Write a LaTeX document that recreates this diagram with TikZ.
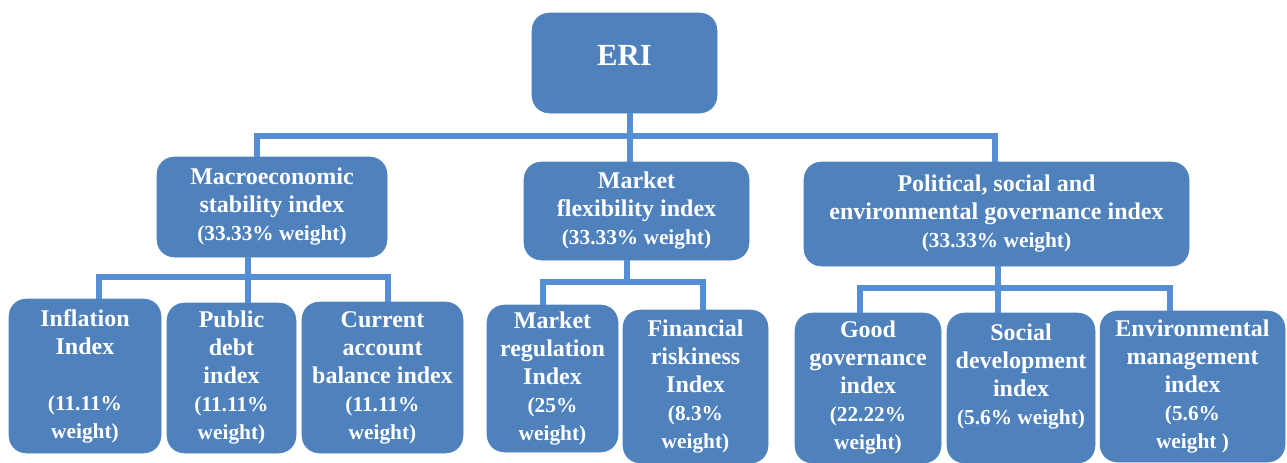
\documentclass[tikz,border=0pt]{standalone}
\usepackage{fontspec}
\setmainfont{Liberation Serif}

\definecolor{boxblue}{RGB}{79,129,189}
\definecolor{lineblue}{RGB}{85,142,213}
\newcommand{\wgt}[1]{{\fontsize{16}{19}\selectfont #1}}

\begin{document}
\begin{tikzpicture}[x=0.75pt,y=0.75pt,yscale=-1,xscale=1,
  box/.style={draw=boxblue,fill=boxblue,rounded corners=13pt,text=white,align=center,inner sep=0.75pt,font=\fontsize{18}{21}\selectfont\bfseries},
  boxsize/.style 2 args={minimum width=#1*0.75pt,minimum height=#2*0.75pt},
  conn/.style={draw=lineblue,line width=4.5pt}]
\useasboundingbox (0,0) rectangle (1287,462);

% Text Node
\node [box,boxsize={185}{100},font=\fontsize{23}{27}\selectfont\bfseries,text depth=12pt] (eri) at (624.5,63) {ERI};
% Text Node
\node [box,boxsize={230}{100}] (msi) at (272,207) {Macroeconomic\\ stability index\\ \wgt{(33.33\% weight)}};
% Text Node
\node [box,boxsize={225}{98}] (mfi) at (636.5,211) {Market\\ flexibility index\\ \wgt{(33.33\% weight)}};
% Text Node
\node [box,boxsize={385}{104}] (pse) at (996.5,214) {Political, social and\\ environmental governance index\\ \wgt{(33.33\% weight)}};

% Text Node
\node [box,boxsize={152}{154}] (inf) at (85,376) {Inflation\\ Index\\ \mbox{}\\ \wgt{(11.11\%}\\ \wgt{weight)}};
% Text Node
\node [box,boxsize={129}{150}] (pdi) at (231.5,378) {Public\\ debt\\ index\\ \wgt{(11.11\%}\\ \wgt{weight)}};
% Text Node
\node [box,boxsize={161}{151}] (cab) at (382.5,377.5) {Current\\ account\\ balance index\\ \wgt{(11.11\%}\\ \wgt{weight)}};
% Text Node
\node [box,boxsize={131}{147}] (mri) at (552.5,378.5) {Market\\ regulation\\ Index\\ \wgt{(25\%}\\ \wgt{weight)}};
% Text Node
\node [box,boxsize={145}{153}] (fri) at (695.5,386.5) {Financial\\ riskiness\\ Index\\ \wgt{(8.3\%}\\ \wgt{weight)}};
% Text Node
\node [box,boxsize={146}{150}] (ggi) at (868,388) {Good\\ governance\\ index\\ \wgt{(22.22\%}\\ \wgt{weight)}};
% Text Node
\node [box,boxsize={148}{150}] (sdi) at (1021,388) {Social\\ development\\ index\\ \wgt{(5.6\% weight)}\\ \mbox{}};
% Text Node
\node [box,boxsize={185}{151}] (emi) at (1192.5,386.5) {Environmental\\ management\\ index\\ \wgt{(5.6\%}\\ \wgt{weight )}};

%Bus points
\coordinate (topl) at (257,136);
\coordinate (top) at (630,136);
\coordinate (topr) at (995,136);
\coordinate (bl) at (99,276.5);
\coordinate (bm) at (248,276.5);
\coordinate (br) at (388,276.5);
\coordinate (cl) at (543,282);
\coordinate (cm) at (627,282);
\coordinate (cr) at (703,282);
\coordinate (dl) at (860,288);
\coordinate (dm) at (998,288);
\coordinate (dr) at (1170,288);

%Straight Lines
\draw [conn] (eri.south -| top) -- (mfi.north -| top);
\draw [conn] (msi.north -| topl) -- (topl) -- (topr) -- (pse.north -| topr);
%Straight Lines
\draw [conn] (msi.south -| bm) -- (pdi.north -| bm);
\draw [conn] (inf.north -| bl) -- (bl) -- (br) -- (cab.north -| br);
%Straight Lines
\draw [conn] (mfi.south -| cm) -- (cm);
\draw [conn] (mri.north -| cl) -- (cl) -- (cr) -- (fri.north -| cr);
%Straight Lines
\draw [conn] (pse.south -| dm) -- (sdi.north -| dm);
\draw [conn] (ggi.north -| dl) -- (dl) -- (dr) -- (emi.north -| dr);

\end{tikzpicture}
\end{document}
